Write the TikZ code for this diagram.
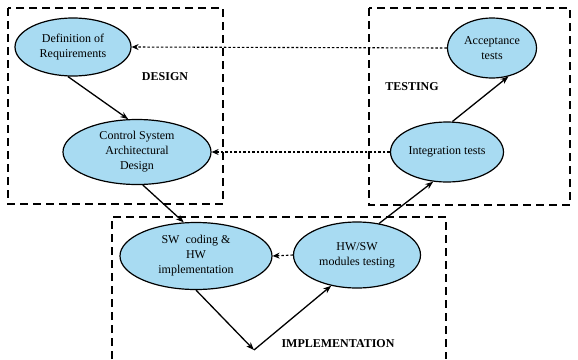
\documentclass[tikz,border=0pt]{standalone}
\usepackage{fontspec}
\setmainfont{Liberation Serif}
\usetikzlibrary{shapes.geometric,arrows.meta}
\definecolor{phasefill}{RGB}{168,219,242}
\tikzset{
	phase/.style={ellipse, draw, line width=1.2pt, fill=phasefill, align=center, inner sep=0pt, font=\fontsize{12}{15}\selectfont},
	area/.style={line width=1.3pt, dash pattern=on 8pt off 5pt},
	arealabel/.style={font=\fontsize{12}{14}\selectfont\bfseries},
	flow/.style={line width=1.3pt, -{Stealth[length=8pt,width=6pt]}},
	feedback/.style={line width=1.1pt, dash pattern=on 2.5pt off 2pt, -{Stealth[length=7pt,width=6pt]}}
}
\begin{document}
\begin{tikzpicture}[x=1pt,y=-1pt]
			\useasboundingbox (0,0) rectangle (578,359);
			% areas
			\draw[area] (8,8) rectangle (223,204);
			\draw[area] (369,8) rectangle (570,205);
			\draw[area] (112,359) -- (112,217) -- (446,217) -- (446,359);
			\node[arealabel] (design) at (165,77) {DESIGN};
			\node[arealabel] (testing) at (412,87) {TESTING};
			\node[arealabel] (impl) at (338,344) {IMPLEMENTATION};
			% phases
			\node[phase, minimum width=116pt, minimum height=58pt] (req) at (73,47) {Definition of\\Requirements};
			\node[phase, minimum width=148pt, minimum height=65pt] (arch) at (137,152) {Control System\\Architectural\\Design};
			\node[phase, minimum width=152pt, minimum height=67pt] (code) at (196,256) {SW\ \ coding \&\\HW\\implementation};
			\node[phase, minimum width=127pt, minimum height=66pt] (modt) at (357,255) {HW/SW\\modules testing};
			\node[phase, minimum width=113pt, minimum height=60pt] (intt) at (447,152) {Integration tests};
			\node[phase, minimum width=89pt, minimum height=60pt] (acct) at (492,48) {Acceptance\\tests};
			\coordinate (vpt) at (254,350);
			% forward flow
			\draw[flow] (req.{-100}) -- (arch.{105});
			\draw[flow] (arch.{-80}) -- (code.{110});
			\draw[flow] (code.{-90}) -- (vpt);
			\draw[flow] (vpt) -- (modt.{-130});
			\draw[flow] (modt.{55}) -- (intt.{-115});
			\draw[flow] (intt.{80}) -- (acct.{-60});
			% feedback
			\draw[feedback] (acct.west) -- (req.east);
			\draw[feedback] (intt.west) -- (arch.east);
			\draw[feedback] (modt.west) -- (code.east);
\end{tikzpicture}
\end{document}
